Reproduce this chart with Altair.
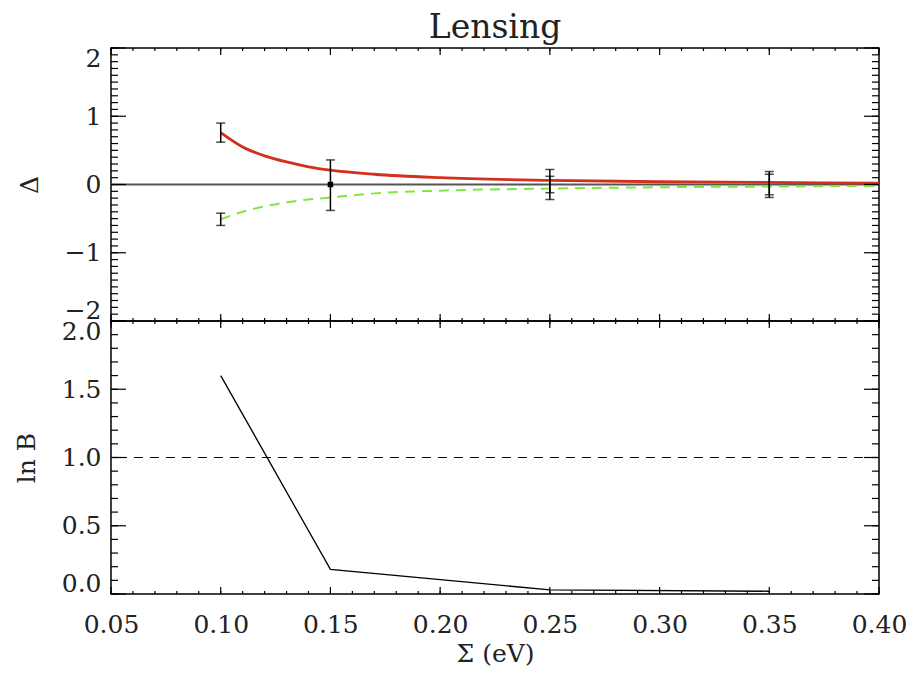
import altair as alt
import pandas as pd

# ---- data ----
curve_x = [0.10, 0.11, 0.12, 0.13, 0.14, 0.15, 0.17, 0.20, 0.25, 0.30, 0.35, 0.40]
red_y = [0.76, 0.55, 0.42, 0.33, 0.26, 0.21, 0.15, 0.10, 0.06, 0.04, 0.03, 0.02]
green_y = [-0.51, -0.40, -0.32, -0.26, -0.22, -0.19, -0.13, -0.09, -0.06, -0.04, -0.03, -0.02]

err_x = [0.10, 0.10, 0.15, 0.25, 0.25, 0.35, 0.35]
err_lo = [0.62, -0.60, -0.38, -0.22, -0.12, -0.19, -0.15]
err_hi = [0.90, -0.42, 0.36, 0.22, 0.12, 0.19, 0.15]

dot_x = [0.15]
dot_y = [0.0]

lnb_x = [0.10, 0.15, 0.25, 0.35]
lnb_y = [1.60, 0.18, 0.03, 0.02]

x_major = [0.05, 0.10, 0.15, 0.20, 0.25, 0.30, 0.35, 0.40]
x_minor = [round(0.05 + 0.01 * i, 2) for i in range(36)]
top_y_major = [-2, -1, 0, 1, 2]
top_y_minor = [round(-2 + 0.1 * i, 1) for i in range(41)]
bot_y_major = [0.0, 0.5, 1.0, 1.5, 2.0]
bot_y_minor = [round(0.1 * i, 1) for i in range(21)]

W, H = 768, 273
FONT = "DejaVu Serif"

xscale = alt.Scale(domain=[0.05, 0.40], nice=False, zero=False)
top_yscale = alt.Scale(domain=[-2, 2], nice=False, zero=False)
bot_yscale = alt.Scale(domain=[0, 2], nice=False, zero=False)

top_yaxis = alt.Axis(values=top_y_major, format="d", title="Δ", labelFlush=True,
                     labelFlushOffset=2, titlePadding=22)
bot_yaxis = alt.Axis(values=bot_y_major, format=".1f", title="ln B", labelFlush=True,
                     labelFlushOffset=2, titlePadding=22)
bot_xaxis = alt.Axis(values=x_major, format=".2f", title="Σ (eV)", labelFlush=False,
                     labelPadding=18, titlePadding=4)


def X(field, xaxis):
    if xaxis is None:
        return alt.X(field, scale=xscale, axis=None)
    return alt.X(field, scale=xscale, axis=xaxis)


def ticks(yscale, yaxis, xaxis, ymaj, ymin):
    layers = []
    for vals, ln in [(ymaj, 15), (ymin, 7)]:
        df = pd.DataFrame({"v": vals})
        base = alt.Chart(df).mark_rule(color="black", strokeWidth=1.2)
        layers.append(base.encode(y=alt.Y("v:Q", scale=yscale, axis=yaxis),
                                  x=alt.value(0), x2=alt.value(ln)))
        layers.append(base.encode(y=alt.Y("v:Q", scale=yscale, axis=yaxis),
                                  x=alt.value(W - ln), x2=alt.value(W)))
    for vals, ln in [(x_major, 7), (x_minor, 3)]:
        df = pd.DataFrame({"v": vals})
        base = alt.Chart(df).mark_rule(color="black", strokeWidth=1.2)
        layers.append(base.encode(x=X("v:Q", xaxis),
                                  y=alt.value(0), y2=alt.value(ln)))
        layers.append(base.encode(x=X("v:Q", xaxis),
                                  y=alt.value(H - ln), y2=alt.value(H)))
    return layers


curves = pd.DataFrame({"x": curve_x, "red": red_y, "green": green_y})
errs = pd.DataFrame({"x": err_x, "lo": err_lo, "hi": err_hi})
dots = pd.DataFrame({"x": dot_x, "y": dot_y})


def TY(field):
    return alt.Y(field, scale=top_yscale, axis=top_yaxis)


zero = alt.Chart(pd.DataFrame({"y": [0.0]})).mark_rule(color="#555555", strokeWidth=2).encode(
    y=TY("y:Q"))
red = alt.Chart(curves).mark_line(color="#d2301e", strokeWidth=2.8, interpolate="monotone").encode(
    x=X("x:Q", None), y=TY("red:Q"))
green = alt.Chart(curves).mark_line(color="#80e83c", strokeWidth=2, strokeDash=[10, 7],
                                    interpolate="monotone").encode(
    x=X("x:Q", None), y=TY("green:Q"))
ebar = alt.Chart(errs).mark_rule(color="black", strokeWidth=1.5).encode(
    x=X("x:Q", None), y=TY("lo:Q"), y2="hi:Q")
cap_lo = alt.Chart(errs).mark_tick(color="black", thickness=1.5, size=9, orient="horizontal").encode(
    x=X("x:Q", None), y=TY("lo:Q"))
cap_hi = alt.Chart(errs).mark_tick(color="black", thickness=1.5, size=9, orient="horizontal").encode(
    x=X("x:Q", None), y=TY("hi:Q"))
dot = alt.Chart(dots).mark_square(color="black", size=30, opacity=1).encode(
    x=X("x:Q", None), y=TY("y:Q"))

top = alt.layer(zero, red, green, ebar, cap_lo, cap_hi, dot,
                *ticks(top_yscale, top_yaxis, None, top_y_major, top_y_minor)).properties(
    width=W, height=H,
    title=alt.Title("Lensing", font=FONT, fontSize=33, fontWeight="normal", color="#222222",
                    offset=1, anchor="middle", frame="group"))

lnb = pd.DataFrame({"x": lnb_x, "y": lnb_y})

dash = alt.Chart(pd.DataFrame({"y": [1.0]})).mark_rule(color="black", strokeWidth=1.2,
                                                         strokeDash=[9, 7]).encode(
    y=alt.Y("y:Q", scale=bot_yscale, axis=bot_yaxis))
line = alt.Chart(lnb).mark_line(color="black", strokeWidth=1.3).encode(
    x=X("x:Q", bot_xaxis), y=alt.Y("y:Q", scale=bot_yscale, axis=bot_yaxis))

bottom = alt.layer(dash, line, *ticks(bot_yscale, bot_yaxis, bot_xaxis,
                                      bot_y_major, bot_y_minor)).properties(width=W, height=H)

chart = alt.vconcat(top, bottom, spacing=0, bounds="flush").properties(
    padding={"left": 5, "top": 3, "right": 5, "bottom": 0}
).configure_view(
    stroke="black", strokeWidth=1.5
).configure_axis(
    labelFont=FONT, labelFontSize=25, labelColor="#222222",
    titleFont=FONT, titleFontSize=25, titleFontWeight="normal", titleColor="#222222",
    ticks=False, tickSize=0, domain=False, grid=False, labelPadding=10
)

chart.save("out.html", embed_options={"renderer": "svg", "actions": False})
